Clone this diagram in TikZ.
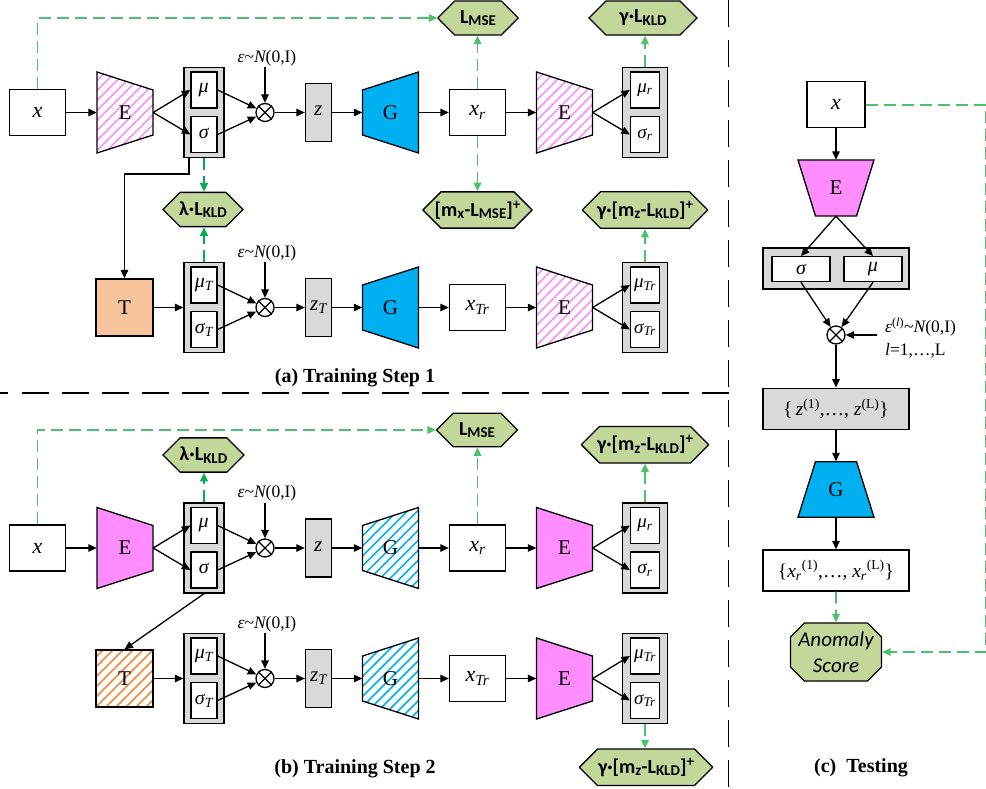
\documentclass[tikz,border=0pt]{standalone}
\usepackage{fontspec}
\setmainfont{Liberation Serif}
\newfontfamily\lossfont{Carlito}
\usetikzlibrary{arrows.meta,shapes.misc}

\definecolor{lossgreen}{HTML}{C4D79B}
\definecolor{dashgreen}{HTML}{4CC06A}
\definecolor{darkgreen}{HTML}{00B050}
\definecolor{encpink}{HTML}{FF8DFF}
\definecolor{decblue}{HTML}{00B0F0}
\definecolor{tpeach}{HTML}{F8C49C}
\definecolor{torange}{HTML}{F08A3C}
\definecolor{boxgray}{HTML}{D9D9D9}

\tikzset{
  thickline/.style={line width=1.3pt},
  whitebox/.style={draw, thickline, fill=white, inner sep=0pt, font=\fontsize{22}{24}\selectfont},
  xbox/.style={whitebox, minimum width=56pt, minimum height=46pt},
  tbox/.style={whitebox, minimum width=57pt, minimum height=57pt, font=\fontsize{21}{23}\selectfont},
  zbox/.style={whitebox, fill=boxgray, minimum width=26pt, minimum height=58pt, font=\fontsize{21}{23}\selectfont},
  latframe/.style={draw, thickline, fill=boxgray, inner sep=0pt, minimum width=40pt, minimum height=90pt},
  latframeb/.style={latframe, minimum width=45pt},
  latent/.style={whitebox, minimum width=26pt, minimum height=36pt, font=\fontsize{20}{22}\selectfont},
  latentb/.style={latent, minimum width=29pt, font=\fontsize{19}{21}\selectfont},
  trapbox/.style={inner sep=0pt, minimum width=56pt, minimum height=81pt, font=\fontsize{21}{23}\selectfont},
  prodnode/.style={circle, draw, thickline, fill=white, minimum size=18pt, inner sep=0pt},
  epslabel/.style={inner sep=1pt, font=\fontsize{17.5}{19}\selectfont},
  loss/.style={chamfered rectangle, chamfered rectangle xsep=9pt, chamfered rectangle ysep=9pt,
    draw, thickline, fill=lossgreen, inner sep=0pt, minimum height=32pt,
    font=\lossfont\bfseries\fontsize{20}{22}\selectfont},
  capt/.style={font=\bfseries\fontsize{20}{22}\selectfont},
  headtip/.style={-{Triangle[length=8.5pt,width=7.5pt]}},
  arr/.style={thickline, headtip},
  garr/.style={line width=1.8pt, headtip, draw=dashgreen, dash pattern=on 12pt off 6pt},
  darr/.style={garr, draw=darkgreen},
  divider/.style={thickline, dash pattern=on 27pt off 13pt},
}

% trapezoid outlines: encoder wide on the left, decoder wide on the right
\newcommand\encpath[2]{(#1-28,#2-40.5) -- (#1+28,#2-22.5) -- (#1+28,#2+22.5) -- (#1-28,#2+40.5) -- cycle}
\newcommand\decpath[2]{(#1-28,#2-22.5) -- (#1+28,#2-40.5) -- (#1+28,#2+40.5) -- (#1-28,#2+22.5) -- cycle}
\newcommand\sqpath[2]{(#1-28.5,#2-28.5) rectangle (#1+28.5,#2+28.5)}
% diagonal stripes around a centre
\newcommand\stripes[3]{\foreach \k in {0,...,16}{\draw[draw=#3,line width=1.7pt] (#1+\k*10-140,#2+60) -- (#1+\k*10-20,#2-60);}}
\newcommand\solidtrap[4]{\filldraw[fill=#4, thickline] #1{#2}{#3};}
\newcommand\hatchtrap[4]{\begin{scope}\clip #1{#2}{#3}; \stripes{#2}{#3}{#4}\end{scope}\draw[thickline] #1{#2}{#3};}

% the shared chain: latent frame -> sampling -> z -> G -> x_r -> E -> latent frame
% #1 id, #2 row y, #3 subscript, #4 style of G, #5 style of E
\newcommand\chain[5]{%
  \node[latframe] (F#1) at (204,#2) {};
  \node[latent] (F#1m) at (204,#2-22.5) {\itshape μ\textsubscript{#3}};
  \node[latent] (F#1s) at (204,#2+22) {\itshape σ\textsubscript{#3}};
  \node[prodnode] (P#1) at (265,#2) {};
  \draw[thickline] (P#1.north east) -- (P#1.south west) (P#1.north west) -- (P#1.south east);
  \node[epslabel] (N#1) at (267,#2-54.5) {{\itshape ε}\char"7E{\itshape N}(0,I)};
  \node[zbox] (Z#1) at (318.5,#2) {\itshape z\textsubscript{#3}};
  #4\decpath{390.5}{#2}{decblue}
  \node[trapbox] (G#1) at (390.5,#2) {G};
  \node[xbox] (X#1) at (477.5,#2) {\itshape x\textsubscript{#3r}};
  #5\encpath{564.5}{#2}{encpink}
  \node[trapbox] (E#1) at (564.5,#2) {E};
  \node[latframeb] (K#1) at (645,#2) {};
  \node[latentb] (K#1m) at (645,#2-22.5) {\itshape μ\textsubscript{#3r}};
  \node[latentb] (K#1s) at (645,#2+22) {\itshape σ\textsubscript{#3r}};
  \draw[arr] (F#1m.east) -- (P#1);
  \draw[arr] (F#1s.east) -- (P#1);
  \draw[arr] (P#1 |- N#1.south) -- (P#1);
  \draw[arr] (P#1) -- (Z#1);
  \draw[arr] (Z#1) -- (G#1);
  \draw[arr] (G#1) -- (X#1);
  \draw[arr] (X#1) -- (E#1);
  \draw[arr] (E#1.east) -- (K#1m.west);
  \draw[arr] (E#1.east) -- (K#1s.west);
}

% subscripts and superscripts inside the loss labels
\newcommand\lsub[1]{\raisebox{-2.5pt}{\fontsize{15}{15}\selectfont #1}}
\newcommand\lsup[1]{\raisebox{7pt}{\fontsize{15}{15}\selectfont #1}}

\begin{document}
\begin{tikzpicture}[x=1pt,y=-1pt]
\useasboundingbox (0,0) rectangle (986,789);
\def\ra{112.5}
\def\rb{307.5}
\def\rc{548}
\def\rd{678.5}

% ---------------- (a) training step 1 ----------------
\node[xbox] (Ia0) at (37.5,\ra) {\itshape x};
\hatchtrap\encpath{125}{\ra}{encpink}
\node[trapbox] (Ia) at (125,\ra) {E};
\chain{a}{\ra}{}{\solidtrap}{\hatchtrap}
\draw[arr] (Ia0) -- (Ia);
\draw[arr] (Ia.east) -- (Fam.west);
\draw[arr] (Ia.east) -- (Fas.west);

\solidtrap\sqpath{124.5}{\rb}{tpeach}
\node[tbox, fill=none, draw=none] (Tb) at (124.5,\rb) {T};
\chain{b}{\rb}{T}{\solidtrap}{\hatchtrap}
\draw[arr] (Tb) -- (Fb);
\draw[arr] ([xshift=-15pt]Fa.south) -- ++(0,16) -| (Tb.north);

\node[loss, minimum width=80pt, minimum height=34pt] (LMa) at (478,18) {L\lsub{MSE}};
\node[loss, minimum width=108pt, minimum height=34pt] (GLa) at (643,18) {γ·L\lsub{KLD}};
\node[loss, minimum width=80pt] (LAa) at (203,209.5) {λ·L\lsub{KLD}};
\node[loss, minimum width=109pt, minimum height=30pt] (MXa) at (477.5,210) {[m\lsub{x}-L\lsub{MSE}]\lsup{+}};
\node[loss, minimum width=125pt, minimum height=30pt] (MZa) at (645,210) {γ·[m\lsub{z}-L\lsub{KLD}]\lsup{+}};

\draw[garr] (Ia0.north) |- (LMa.west);
\draw[garr] (Xa.north) -- (Xa.north |- LMa.south);
\draw[garr] (Xa.south) -- (Xa.south |- MXa.north);
\draw[garr] (Ka.north) -- (Ka.north |- GLa.south);
\draw[darr] (Fa.south) -- (Fa.south |- LAa.north);
\draw[darr] (Fb.north) -- (Fb.north |- LAa.south);
\draw[garr] (Kb.north) -- (Kb.north |- MZa.south);

\node[capt] (capA) at (355,378) {(a) Training Step 1};

% ---------------- (b) training step 2 ----------------
\node[xbox] (Ic0) at (37.5,\rc) {\itshape x};
\solidtrap\encpath{125}{\rc}{encpink}
\node[trapbox] (Ic) at (125,\rc) {E};
\chain{c}{\rc}{}{\hatchtrap}{\solidtrap}
\draw[arr] (Ic0) -- (Ic);
\draw[arr] (Ic.east) -- (Fcm.west);
\draw[arr] (Ic.east) -- (Fcs.west);

\begin{scope}\clip \sqpath{124.5}{\rd}; \stripes{124.5}{\rd}{torange}\end{scope}
\draw[thickline] \sqpath{124.5}{\rd};
\node[tbox, fill=none, draw=none] (Td) at (124.5,\rd) {T};
\chain{d}{\rd}{T}{\hatchtrap}{\solidtrap}
\draw[arr] (Td) -- (Fd);
\draw[arr] (Fc.south) -- (Td.north);

\node[loss, minimum width=81pt, minimum height=30pt] (LMc) at (477,430) {L\lsub{MSE}};
\node[loss, minimum width=81pt] (LAc) at (203.5,455) {λ·L\lsub{KLD}};
\node[loss, minimum width=127pt] (MZc) at (645,444.7) {γ·[m\lsub{z}-L\lsub{KLD}]\lsup{+}};
\node[loss, minimum width=133pt] (MZd) at (646,767.3) {γ·[m\lsub{z}-L\lsub{KLD}]\lsup{+}};

\draw[garr] (Ic0.north) |- (LMc.west);
\draw[garr] (Xc.north) -- (Xc.north |- LMc.south);
\draw[darr] (Fc.north) -- (Fc.north |- LAc.south);
\draw[garr] (Kc.north) -- (Kc.north |- MZc.south);
\draw[garr] (Kd.south) -- (Kd.south |- MZd.north);

\node[capt] (capB) at (355,769) {(b) Training Step 2};

% ---------------- (c) testing ----------------
\node[whitebox, minimum width=58pt, minimum height=46pt] (tX0) at (836,104.7) {\itshape x};
\filldraw[fill=encpink, thickline] (798,160) -- (874,160) -- (856.5,216) -- (815.5,216) -- cycle;
\node[trapbox, minimum width=76pt, minimum height=56pt] (tE) at (836,188) {E};
\node[latframe, minimum width=146pt, minimum height=41pt] (tF) at (836,268.5) {};
\node[latent, minimum width=58pt, minimum height=25pt] (tFs) at (801,269.2) {\itshape σ};
\node[latent, minimum width=58pt, minimum height=25pt] (tFm) at (873,269.2) {\itshape μ};
\node[prodnode] (tP) at (836,335) {};
\draw[thickline] (tP.north east) -- (tP.south west) (tP.north west) -- (tP.south east);
\coordinate (tIn) at (877,335);
\node[epslabel, anchor=west, align=left, font=\fontsize{17.5}{23}\selectfont] (tN) at (884,338)
  {{\itshape ε}\textsuperscript{({\itshape l})}\char"7E{\itshape N}(0,I)\\{\itshape l}=1,…,L};
\node[zbox, minimum width=146pt, minimum height=41pt, font=\fontsize{19.5}{21}\selectfont] (tZ) at (836,408.7)
  {\{\,{\itshape z}\textsuperscript{(1)},…, {\itshape z}\textsuperscript{(L)}\}};
\filldraw[fill=decblue, thickline] (815.5,461.7) -- (856.5,461.7) -- (874,517.3) -- (798,517.3) -- cycle;
\node[trapbox, minimum width=76pt, minimum height=56pt] (tG) at (836,489.5) {G};
\node[whitebox, minimum width=146pt, minimum height=41pt, font=\fontsize{19.5}{21}\selectfont] (tXr) at (836,570.5)
  {\{{\itshape x}\textsubscript{\itshape r}\textsuperscript{(1)},…, {\itshape x}\textsubscript{\itshape r}\textsuperscript{(L)}\}};
\node[loss, minimum width=91pt, minimum height=58pt, chamfered rectangle xsep=7pt, chamfered rectangle ysep=7pt,
  align=center, font=\lossfont\itshape\fontsize{21}{26}\selectfont] (tA) at (836,652) {Anomaly\\Score};

\draw[arr] (tX0) -- (tE);
\draw[arr] (tE.south) -- (tFs.north);
\draw[arr] (tE.south) -- (tFm.north);
\draw[arr] (tFs.south) -- (tP);
\draw[arr] (tFm.south) -- (tP);
\draw[arr] (tIn) -- (tP);
\draw[arr] (tP) -- (tZ);
\draw[arr] (tZ) -- (tG);
\draw[arr] (tG) -- (tXr);
\draw[garr] (tXr) -- (tA);
\draw[garr] (tX0.east) -- ++(120,0) |- (tA.east);

\node[capt] (capC) at (861,768) {(c)\hspace{10pt}Testing};

% ---------------- separators ----------------
\coordinate (dTop) at (728.5,0);
\coordinate (dBot) at (728.5,789);
\coordinate (hL) at (0,393);
\coordinate (hR) at (728.5,393);
\draw[divider] (dTop) -- (dBot);
\draw[divider] (hR) -- (hL);
\end{tikzpicture}
\end{document}
